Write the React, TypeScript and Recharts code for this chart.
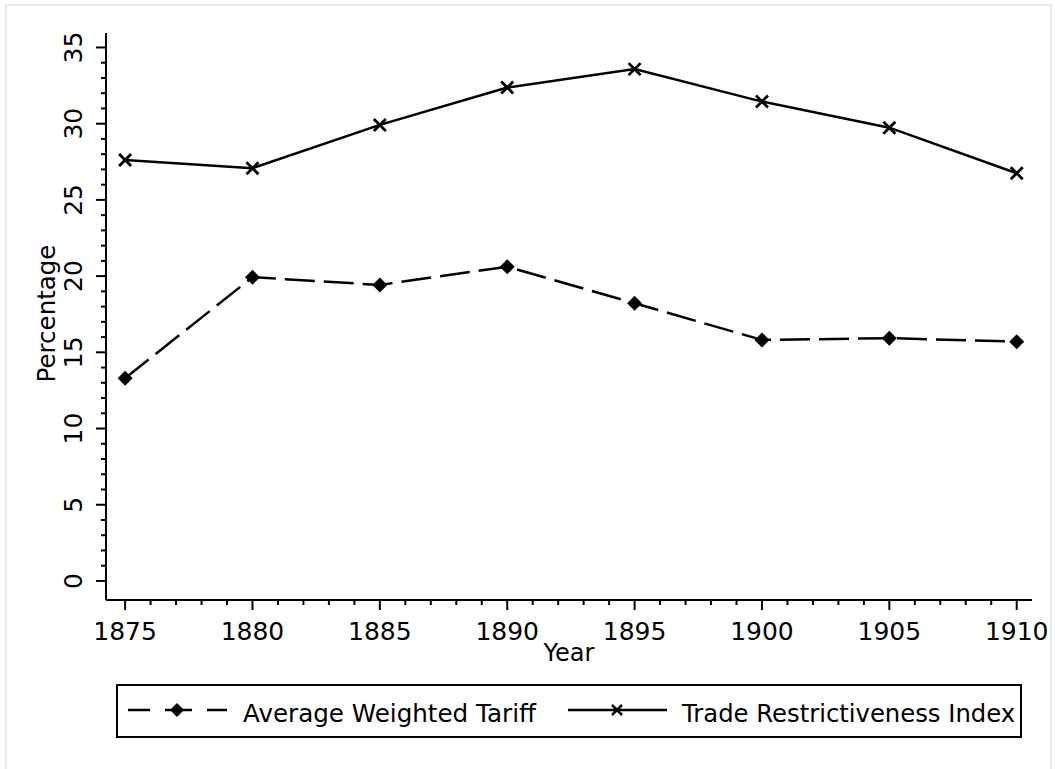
import React from "react";
import { LineChart, Line, XAxis, YAxis } from "recharts";

const years = [1875, 1880, 1885, 1890, 1895, 1900, 1905, 1910];
const avgWeightedTariff = [13.3, 19.93, 19.42, 20.62, 18.22, 15.81, 15.93, 15.7];
const tradeRestrictiveness = [27.62, 27.08, 29.92, 32.37, 33.58, 31.45, 29.74, 26.75];

const xTicks = Array.from({ length: 36 }, (_, i) => 1875 + i);
const yTicks = Array.from({ length: 36 }, (_, i) => i);

const data = years.map((year, i) => ({
  year,
  awt: avgWeightedTariff[i],
  tri: tradeRestrictiveness[i],
}));

const FONT = "'DejaVu Sans', sans-serif";

const YTick = (props: any) => {
  const { x, y, payload } = props;
  const major = payload.value % 5 === 0;
  return (
    <g>
      <line x1={x - (major ? 10 : 5)} x2={x} y1={y} y2={y} stroke="#000" strokeWidth={2} />
      {major && (
        <text
          x={x - 24}
          y={y}
          transform={`rotate(-90 ${x - 24} ${y})`}
          textAnchor="middle"
          fontFamily={FONT}
          fontSize={25}
          fill="#000"
        >
          {payload.value}
        </text>
      )}
    </g>
  );
};

const XTick = (props: any) => {
  const { x, y, payload } = props;
  const major = payload.value % 5 === 0;
  return (
    <g>
      <line x1={x} x2={x} y1={y} y2={y + (major ? 10 : 5)} stroke="#000" strokeWidth={2} />
      {major && (
        <text x={x} y={y + 40} textAnchor="middle" fontFamily={FONT} fontSize={25} fill="#000">
          {payload.value}
        </text>
      )}
    </g>
  );
};

const Diamond = (props: any) => {
  const { cx, cy, index } = props;
  if (cx == null || cy == null) return <g key={index} />;
  return (
    <path
      key={index}
      d={`M${cx} ${cy - 7.5}L${cx + 7.5} ${cy}L${cx} ${cy + 7.5}L${cx - 7.5} ${cy}Z`}
      fill="#000"
    />
  );
};

const Cross = (props: any) => {
  const { cx, cy, index } = props;
  if (cx == null || cy == null) return <g key={index} />;
  return (
    <path
      key={index}
      d={`M${cx - 6} ${cy - 6}L${cx + 6} ${cy + 6}M${cx - 6} ${cy + 6}L${cx + 6} ${cy - 6}`}
      stroke="#000"
      strokeWidth={2.8}
      fill="none"
    />
  );
};

export default function App() {
  return (
    <div style={{ position: "absolute", left: 0, top: 0, width: 1055, height: 769, background: "#fff" }}>
      <svg
        width={1055}
        height={769}
        style={{ position: "absolute", left: 0, top: 0 }}
      >
        <rect x={6} y={5} width={1045} height={770} fill="none" stroke="#e4eced" strokeWidth={2} />
      </svg>
      <div style={{ position: "absolute", left: 0, top: 0 }}>
        <LineChart
          width={1055}
          height={769}
          data={data}
          margin={{ top: 33, right: 23, left: 0, bottom: 0 }}
        >
          <XAxis
            dataKey="year"
            type="number"
            domain={[1874.25, 1910.6]}
            allowDataOverflow
            ticks={xTicks}
            interval={0}
            tick={<XTick />}
            tickLine={false}
            tickSize={0}
            tickMargin={0}
            height={169}
            axisLine={{ stroke: "#000", strokeWidth: 2 }}
            label={{
              value: "Year",
              content: (p: any) => {
                const vb = p.viewBox;
                return (
                  <text
                    x={vb.x + vb.width / 2}
                    y={vb.y + 61}
                    textAnchor="middle"
                    fontFamily={FONT}
                    fontSize={24}
                    fill="#000"
                  >
                    Year
                  </text>
                );
              },
            }}
          />
          <YAxis
            type="number"
            domain={[-1.25, 35.95]}
            allowDataOverflow
            ticks={yTicks}
            interval={0}
            tick={<YTick />}
            tickLine={false}
            tickSize={0}
            tickMargin={0}
            width={106}
            axisLine={{ stroke: "#000", strokeWidth: 2 }}
            label={{
              value: "Percentage",
              content: (p: any) => {
                const vb = p.viewBox;
                const cx = vb.x + 55;
                const cy = vb.y + vb.height / 2 - 3;
                return (
                  <text
                    x={cx}
                    y={cy}
                    transform={`rotate(-90 ${cx} ${cy})`}
                    textAnchor="middle"
                    fontFamily={FONT}
                    fontSize={24.5}
                    fill="#000"
                  >
                    Percentage
                  </text>
                );
              },
            }}
          />
          <Line
            type="linear"
            dataKey="tri"
            stroke="#000"
            strokeWidth={2.5}
            dot={<Cross />}
            activeDot={false}
            isAnimationActive={false}
          />
          <Line
            type="linear"
            dataKey="awt"
            stroke="#000"
            strokeWidth={2.5}
            strokeDasharray="30 9"
            dot={<Diamond />}
            activeDot={false}
            isAnimationActive={false}
          />
        </LineChart>
      </div>
      <svg width={1055} height={769} style={{ position: "absolute", left: 0, top: 0, pointerEvents: "none" }}>
        <rect x={117} y={685} width={904} height={52} fill="#fff" stroke="#000" strokeWidth={2} />
        <g stroke="#000" strokeWidth={2.5}>
          <line x1={128} x2={150} y1={710} y2={710} />
          <line x1={165} x2={192} y1={710} y2={710} />
          <line x1={207} x2={227} y1={710} y2={710} />
          <line x1={568} x2={667} y1={710} y2={710} />
          <path d="M612 705L622 715M612 715L622 705" fill="none" />
        </g>
        <path d="M177 703L184 710L177 717L170 710Z" fill="#000" />
        <text x={243} y={722} fontFamily={FONT} fontSize={24.6} fill="#000">
          Average Weighted Tariff
        </text>
        <text x={682} y={722} fontFamily={FONT} fontSize={24.3} fill="#000">
          Trade Restrictiveness Index
        </text>
      </svg>
    </div>
  );
}
